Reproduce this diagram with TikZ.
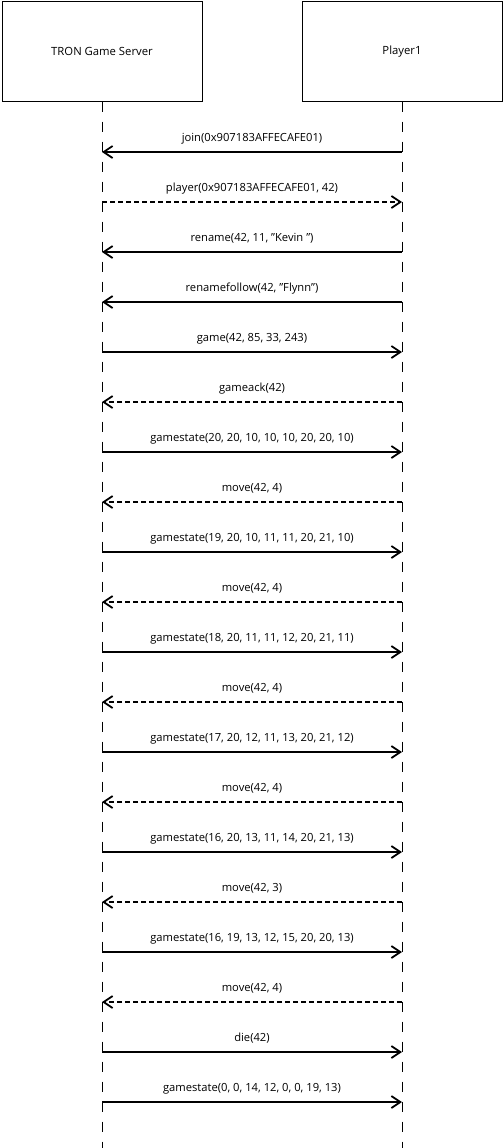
\documentclass[tikz,border=0pt]{standalone}
\usepackage{fontspec}
\setmainfont{Open Sans}
\usetikzlibrary{arrows.meta}
\newcommand{\dq}{\symbol{34}}
\begin{document}
\begin{tikzpicture}[x=1pt,y=-1pt,
  actor/.style={draw=black,line width=1pt,minimum width=200pt,minimum height=99pt,inner sep=0pt,font=\fontsize{11.3}{13}\selectfont},
  life/.style={draw=black,line width=1pt,dash pattern=on 10pt off 10pt},
  call/.style={draw=black,line width=1.8pt,-{Straight Barb[length=9pt,width=12pt,line width=1.8pt]}},
  reply/.style={call,dash pattern=on 5pt off 3pt},
  lbl/.style={anchor=base,yshift=10.5pt,inner sep=0pt,font=\fontsize{11.2}{13}\selectfont}]
\useasboundingbox (0,0) rectangle (503,1148);
\node[actor] (srv) at (102,51.5) {TRON Game Server};
\node[actor] (p1) at (402,51.5) {Player1};
\coordinate (srvend) at (102,1148);
\coordinate (p1end) at (402,1148);
\draw[life] (srv.south) -- (srvend);
\draw[life] (p1.south) -- (p1end);
\foreach \i in {1,...,20}{
  \coordinate (L\i) at (102,102+50*\i);
  \coordinate (R\i) at (402,102+50*\i);
}
\draw[call] (R1) -- node[lbl]{join(0x907183AFFECAFE01)} (L1);
\draw[reply] (L2) -- node[lbl]{player(0x907183AFFECAFE01, 42)} (R2);
\draw[call] (R3) -- node[lbl]{rename(42, 11, \dq Kevin \dq)} (L3);
\draw[call] (R4) -- node[lbl]{renamefollow(42, \dq Flynn\dq)} (L4);
\draw[call] (L5) -- node[lbl]{game(42, 85, 33, 243)} (R5);
\draw[reply] (R6) -- node[lbl]{gameack(42)} (L6);
\draw[call] (L7) -- node[lbl]{gamestate(20, 20, 10, 10, 10, 20, 20, 10)} (R7);
\draw[reply] (R8) -- node[lbl]{move(42, 4)} (L8);
\draw[call] (L9) -- node[lbl]{gamestate(19, 20, 10, 11, 11, 20, 21, 10)} (R9);
\draw[reply] (R10) -- node[lbl]{move(42, 4)} (L10);
\draw[call] (L11) -- node[lbl]{gamestate(18, 20, 11, 11, 12, 20, 21, 11)} (R11);
\draw[reply] (R12) -- node[lbl]{move(42, 4)} (L12);
\draw[call] (L13) -- node[lbl]{gamestate(17, 20, 12, 11, 13, 20, 21, 12)} (R13);
\draw[reply] (R14) -- node[lbl]{move(42, 4)} (L14);
\draw[call] (L15) -- node[lbl]{gamestate(16, 20, 13, 11, 14, 20, 21, 13)} (R15);
\draw[reply] (R16) -- node[lbl]{move(42, 3)} (L16);
\draw[call] (L17) -- node[lbl]{gamestate(16, 19, 13, 12, 15, 20, 20, 13)} (R17);
\draw[reply] (R18) -- node[lbl]{move(42, 4)} (L18);
\draw[call] (L19) -- node[lbl]{die(42)} (R19);
\draw[call] (L20) -- node[lbl]{gamestate(0, 0, 14, 12, 0, 0, 19, 13)} (R20);
\end{tikzpicture}
\end{document}
